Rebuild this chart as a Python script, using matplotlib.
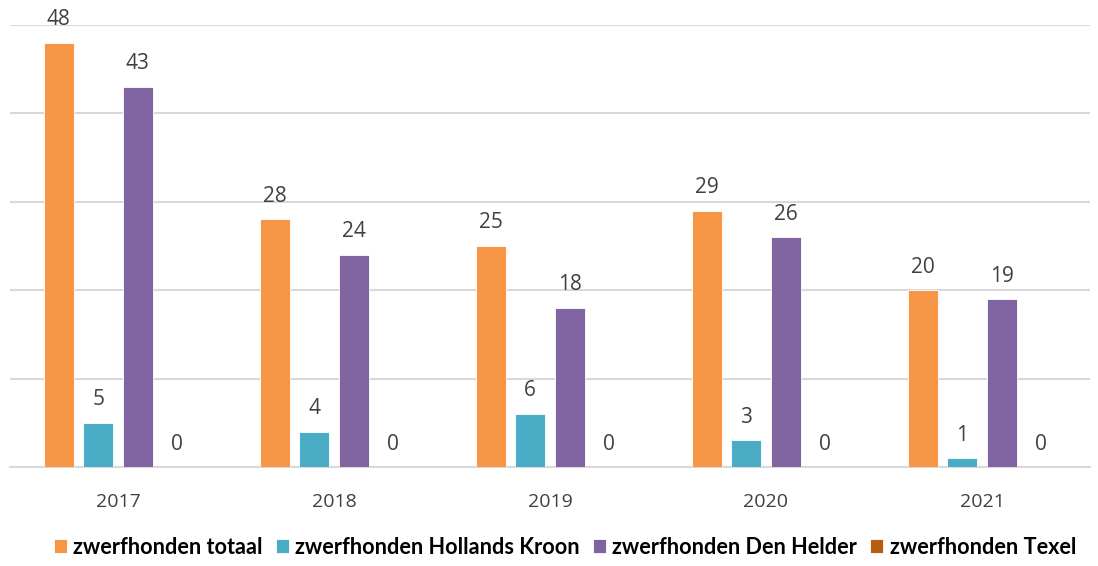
import numpy as np
from matplotlib import pyplot as plt

years = ['2017', '2018', '2019', '2020', '2021']
totaal = [48, 28, 25, 29, 20]
hollands_kroon = [5, 4, 6, 3, 1]
den_helder = [43, 24, 18, 26, 19]
texel = [0, 0, 0, 0, 0]

series = [
    ('zwerfhonden totaal', totaal, '#F79646'),
    ('zwerfhonden Hollands Kroon', hollands_kroon, '#4BACC6'),
    ('zwerfhonden Den Helder', den_helder, '#8064A2'),
    ('zwerfhonden Texel', texel, '#B85C12'),
]

plt.rcParams['font.family'] = ['Open Sans', 'DejaVu Sans']

fig = plt.figure(figsize=(10.98, 5.66), dpi=100)
ax = fig.add_axes([10 / 1098, 99 / 566, 1080 / 1098, 442 / 566])

x = np.arange(len(years))
width = 0.14
pitch = 0.183
for i, (label, vals, color) in enumerate(series):
    pos = x + (i - 1.5) * pitch
    bars = ax.bar(pos, vals, width, color=color, label=label,
                  edgecolor='white', linewidth=0.6, zorder=3)
    for b, v in zip(bars, vals):
        ax.annotate(str(v), (b.get_x() + b.get_width() / 2, v),
                    xytext=(0, 9), textcoords='offset points',
                    ha='center', va='bottom', fontsize=15, color='#404040')

ax.set_xlim(-0.5, len(years) - 0.5)
ax.set_ylim(0, 50)
ax.set_yticks(range(0, 51, 10))
ax.yaxis.grid(True, color='#D9D9D9', linewidth=1.5, zorder=0)
ax.set_yticklabels([])
ax.tick_params(axis='y', length=0)
ax.set_xticks(x)
ax.set_xticklabels(years, fontsize=14, color='#404040')
ax.tick_params(axis='x', length=0, pad=19)
for s in ['top', 'right', 'left']:
    ax.spines[s].set_visible(False)
ax.spines['bottom'].set_color('#D9D9D9')
ax.spines['bottom'].set_linewidth(1.5)

leg = fig.legend(loc='lower center', bbox_to_anchor=(0.5146, -0.02), ncol=4,
                 frameon=False, handlelength=0.6, handleheight=0.6,
                 handletextpad=0.3, columnspacing=0.6,
                 prop={'family': ['Lato', 'DejaVu Sans'],
                       'weight': 'bold', 'size': 15.6})
for t in leg.get_texts():
    t.set_color('black')

fig.savefig('out.png', dpi=100)
